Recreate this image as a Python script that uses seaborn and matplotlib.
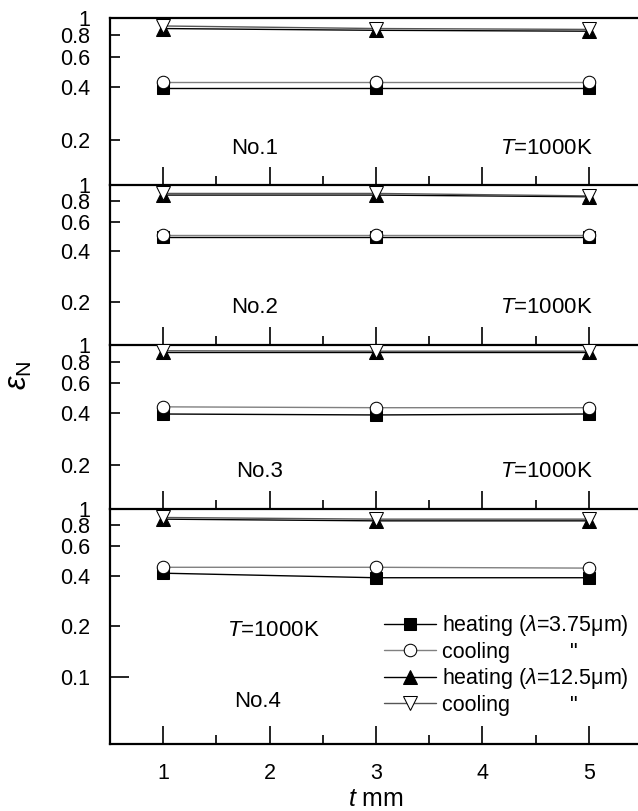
import numpy as np
import pandas as pd
import seaborn as sns
import matplotlib.pyplot as plt
from matplotlib.ticker import FixedLocator, FixedFormatter

# data: emissivity vs thickness, four samples
thickness = [1, 3, 5]
sample_names = ["No.1", "No.2", "No.3", "No.4"]
heat_375 = [[0.395, 0.395, 0.395], [0.49, 0.49, 0.49], [0.395, 0.39, 0.395], [0.415, 0.39, 0.39]]
cool_375 = [[0.43, 0.43, 0.43], [0.50, 0.50, 0.50], [0.435, 0.43, 0.43], [0.45, 0.45, 0.445]]
heat_125 = [[0.87, 0.85, 0.84], [0.87, 0.87, 0.85], [0.91, 0.91, 0.91], [0.87, 0.85, 0.85]]
cool_125 = [[0.90, 0.87, 0.86], [0.89, 0.89, 0.86], [0.925, 0.92, 0.92], [0.89, 0.87, 0.87]]
series_labels = ["heating ($\\lambda$=3.75\u03bcm)", "cooling          \"",
                 "heating ($\\lambda$=12.5\u03bcm)", "cooling          \""]
y_ticks = [0.2, 0.4, 0.6, 0.8]
y_ticks_long = [0.1, 1]

sns.set_style("ticks")
plt.rcParams['font.family'] = ['Liberation Sans', 'DejaVu Sans']
plt.rcParams['mathtext.fontset'] = 'custom'
plt.rcParams['mathtext.rm'] = 'Liberation Sans'
plt.rcParams['mathtext.it'] = 'Liberation Sans:italic'
plt.rcParams['mathtext.bf'] = 'Liberation Sans:bold'
plt.rcParams['text.color'] = 'black'
plt.rcParams['axes.labelcolor'] = 'black'
plt.rcParams['xtick.color'] = 'black'
plt.rcParams['ytick.color'] = 'black'
plt.rcParams['axes.edgecolor'] = 'black'

styles = [
    dict(marker='s', color='black', markerfacecolor='black', markeredgecolor='black', markersize=8.5),
    dict(marker='o', color='#808080', markerfacecolor='white', markeredgecolor='black', markersize=9),
    dict(marker='^', color='black', markerfacecolor='black', markeredgecolor='black', markersize=10),
    dict(marker='v', color='#555555', markerfacecolor='white', markeredgecolor='black', markersize=10),
]

fig = plt.figure(figsize=(6.38, 8.11), dpi=100)
# panel boxes in figure fraction (left, bottom, width, height)
boxes = [(0.1724, 0.7719, 0.834, 0.2059),
         (0.1724, 0.5746, 0.834, 0.1973),
         (0.1724, 0.3724, 0.834, 0.2022),
         (0.1724, 0.0826, 0.834, 0.2898)]
ylims = [(0.11, 1), (0.11, 1), (0.11, 1), (0.04, 1)]
no_pos = [(0.272, 0.216), (0.272, 0.237), (0.282, 0.227), (0.278, 0.179)]

for i, box in enumerate(boxes):
    ax = fig.add_axes(box)
    ax.patch.set_facecolor('none')
    data = [heat_375[i], cool_375[i], heat_125[i], cool_125[i]]
    for j, vals in enumerate(data):
        df = pd.DataFrame({"t": thickness, "e": vals})
        sns.lineplot(data=df, x="t", y="e", ax=ax, linewidth=1.0,
                     label=series_labels[j] if i == 3 else None,
                     legend=(i == 3), zorder=3 + j, **styles[j])
    ax.set_yscale('log')
    ax.set_ylim(*ylims[i])
    ax.set_xlim(0.5, 5.5)
    ax.yaxis.set_major_locator(FixedLocator(y_ticks))
    ax.yaxis.set_major_formatter(FixedFormatter([f"{v:g}" for v in y_ticks]))
    ax.yaxis.set_minor_locator(FixedLocator(y_ticks_long))
    ax.yaxis.set_minor_formatter(FixedFormatter([f"{v:g}" for v in y_ticks_long]))
    ax.set_xticks([1, 2, 3, 4, 5])
    ax.set_xticks([1.5, 2.5, 3.5, 4.5], minor=True)
    ax.tick_params(axis='both', which='both', direction='in', labelsize=15.5, width=1.2, pad=14)
    ax.tick_params(axis='y', which='major', length=7)
    ax.tick_params(axis='y', which='minor', length=14)
    ax.tick_params(axis='x', which='major', length=13)
    ax.tick_params(axis='x', which='minor', length=6.5)
    ax.set_xlabel("")
    ax.set_ylabel("")
    for s in ['left', 'bottom', 'top']:
        ax.spines[s].set_linewidth(1.6)
    ax.spines['right'].set_visible(False)
    if i > 0:
        ax.spines['top'].set_visible(False)
    if i < 3:
        ax.tick_params(axis='x', labelbottom=False)
        ax.text(no_pos[i][0], no_pos[i][1], sample_names[i], transform=ax.transAxes,
                ha='center', va='center', fontsize=16)
        ax.text(0.908, no_pos[i][1], "$T$=1000K", transform=ax.transAxes,
                ha='right', va='center', fontsize=16)
    else:
        ax.text(no_pos[i][0], no_pos[i][1], sample_names[i], transform=ax.transAxes,
                ha='center', va='center', fontsize=16)
        ax.text(0.22, 0.485, "$T$=1000K", transform=ax.transAxes,
                ha='left', va='center', fontsize=16)
        ax.set_xlabel("$t$ mm", fontsize=18, labelpad=2)
        ax.legend(loc='upper left', bbox_to_anchor=(0.515, 0.556), frameon=False, fontsize=15.5,
                  handlelength=2.4, handletextpad=0.3, labelspacing=0.16, borderpad=0,
                  borderaxespad=0)

fig.text(0.030, 0.5376, "$\\varepsilon_\\mathrm{N}$", rotation=90, fontsize=22,
         ha='center', va='center')

fig.savefig("out.png", dpi=100)
